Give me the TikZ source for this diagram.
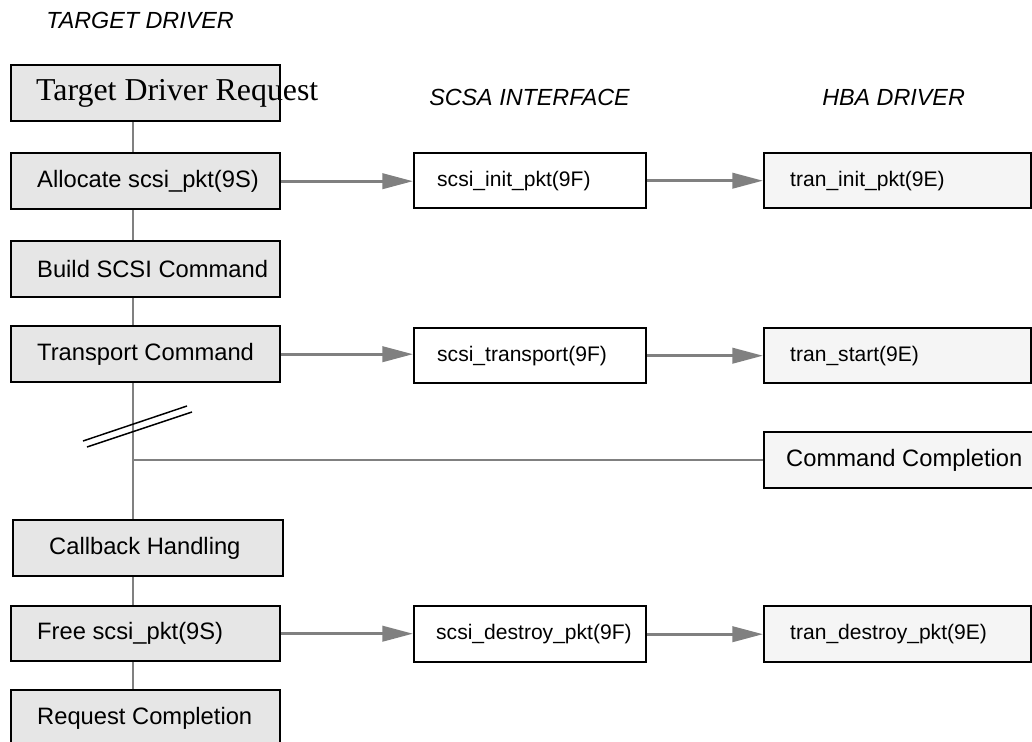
\documentclass[tikz,border=0pt]{standalone}
\usepackage{fontspec}
\setmainfont{Liberation Sans}
\newfontfamily\seriffam{Liberation Serif}
\usetikzlibrary{arrows.meta}
\definecolor{leftfill}{RGB}{230,230,230}
\definecolor{rightfill}{RGB}{245,245,245}
\definecolor{conngray}{RGB}{128,128,128}
\newdimen\px \px=0.75pt
\newcommand{\bt}[3]{\makebox[#1\px][l]{\hspace*{#2\px}#3}}
\tikzset{
  box/.style={draw=black, line width=1.8pt, rectangle, inner xsep=0pt, inner ysep=0pt, anchor=north west},
  lbox/.style={box, fill=leftfill, font=\fontsize{17.8}{20}\selectfont},
  mbox/.style={box, fill=white, font=\fontsize{15.8}{18}\selectfont},
  rbox/.style={box, fill=rightfill, font=\fontsize{15.8}{18}\selectfont},
  conn/.style={draw=conngray, line width=2.2pt},
  arr/.style={conn, -{Triangle[length=23pt,width=11.5pt]}, fill=conngray},
  hdr/.style={anchor=west, inner sep=0pt, font=\fontsize{17.5}{20}\selectfont\itshape},
  slash/.style={draw=black, line width=1.1pt}
}
\begin{document}
\begin{tikzpicture}[x=0.75pt,y=-0.75pt]
\useasboundingbox (0,0) rectangle (1032,742);
\clip (0,0) rectangle (1032,742);
% headers
\node[hdr] (h1) at (46,20) {TARGET DRIVER};
\node[hdr] (h2) at (429,97) {SCSA INTERFACE};
\node[hdr] (h3) at (822,97) {HBA DRIVER};
% spine drawn first, boxes cover it
\draw[conn] (133,120) -- (133,689);
\draw[conn] (133,460) -- (763,460);
% left column
\node[lbox, minimum width=269\px, minimum height=56\px] (tdr) at (10,64) {\bt{269}{25}{\seriffam\fontsize{23.9}{26}\selectfont Target Driver Request}};
\node[lbox, minimum width=269\px, minimum height=56\px] (alloc) at (10,152) {\bt{269}{26}{Allocate scsi\_pkt(9S)}};
\node[lbox, minimum width=269\px, minimum height=56\px] (build) at (10,240) {\bt{269}{26}{Build SCSI Command}};
\node[lbox, minimum width=269\px, minimum height=56\px] (trans) at (10,325) {\bt{269}{26}{Transport Command}};
\node[lbox, minimum width=270\px, minimum height=56\px] (cb) at (12,519) {\bt{270}{36}{Callback Handling}};
\node[lbox, minimum width=269\px, minimum height=55\px] (free) at (10,605) {\bt{269}{26}{Free scsi\_pkt(9S)}};
\node[lbox, minimum width=269\px, minimum height=56\px] (reqc) at (10,689) {\bt{269}{26}{Request Completion}};
% middle column
\node[mbox, minimum width=232\px, minimum height=55\px] (sinit) at (413,152) {\bt{232}{23}{scsi\_init\_pkt(9F)}};
\node[mbox, minimum width=232\px, minimum height=55\px] (strans) at (413,327) {\bt{232}{23}{scsi\_transport(9F)}};
\node[mbox, minimum width=232\px, minimum height=56\px] (sdest) at (413,605) {\bt{232}{22}{scsi\_destroy\_pkt(9F)}};
% right column
\node[rbox, minimum width=267\px, minimum height=55\px] (tinit) at (763,152) {\bt{267}{26}{tran\_init\_pkt(9E)}};
\node[rbox, minimum width=267\px, minimum height=55\px] (tstart) at (763,327) {\bt{267}{26}{tran\_start(9E)}};
\node[rbox, minimum width=267\px, minimum height=56\px] (tdest) at (763,605) {\bt{267}{26}{tran\_destroy\_pkt(9E)}};
\node[rbox, font=\fontsize{17.8}{20}\selectfont, minimum width=290\px, minimum height=56\px] (cmd) at (763,431) {\bt{290}{22}{Command Completion}};
% arrows
\draw[arr] (alloc.east) -- (alloc.east -| sinit.west);
\draw[arr] (sinit.east) -- (sinit.east -| tinit.west);
\draw[arr] (trans.east) -- (trans.east -| strans.west);
\draw[arr] (strans.east) -- (strans.east -| tstart.west);
\draw[arr] (free.east) -- (free.east -| sdest.west);
\draw[arr] (sdest.east) -- (sdest.east -| tdest.west);
% break mark
\draw[slash] (83,441) -- (187,406);
\draw[slash] (87,447) -- (192,412);
\end{tikzpicture}
\end{document}
